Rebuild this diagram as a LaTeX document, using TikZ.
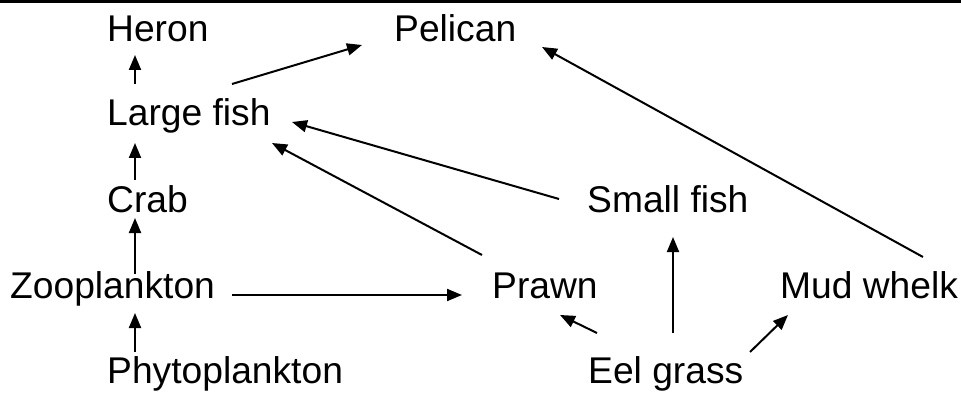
\documentclass[tikz,border=0pt]{standalone}
\usepackage{fontspec}
\setmainfont{Liberation Sans}
\usetikzlibrary{arrows.meta}

\begin{document}
\begin{tikzpicture}[x=1pt,y=-1pt,
  sp/.style={inner sep=0pt,anchor=base west,text height=27pt,text depth=8pt,
    font=\fontsize{37.2}{40}\selectfont},
  eat/.style={line width=2pt,-{Triangle[length=15pt,width=12pt]}}]
\useasboundingbox (0,0) rectangle (961,393);
\draw[line width=3pt] (0,1.5) -- (961,1.5);
\node[sp] (heron) at (107,42) {Heron}; \node[sp] (pelican) at (394,42)
  {Pelican}; \node[sp] (lfish) at (107,126) {Large fish}; \node[sp] (crab)
  at (107,212) {Crab}; \node[sp] (sfish) at (587,212) {Small fish};
\node[sp] (zoo) at (10,298) {Zooplankton}; \node[sp] (prawn) at (492,298)
  {Prawn}; \node[sp] (mud) at (780,298) {Mud whelk}; \node[sp] (phyto) at
  (107,383) {Phytoplankton}; \node[sp] (eel) at (588,383) {Eel grass};
\draw[eat] ([shift={(28,-42)}]lfish.base west) -- ([shift={(28,13)}]heron.base west);
\draw[eat] ([shift={(28,-32)}]crab.base west) -- ([shift={(28,17)}]lfish.base west);
\draw[eat] ([shift={(125,-24)}]zoo.base west) -- ([shift={(28,6)}]crab.base west);
\draw[eat] ([shift={(28,-31)}]phyto.base west) -- ([shift={(125,15)}]zoo.base west);
\draw[eat] ([shift={(222,-3)}]zoo.base west) -- ([shift={(-30,-3)}]prawn.base west);
\draw[eat] ([shift={(125,-42)}]lfish.base west) -- ([shift={(-32,3)}]pelican.base west);
\draw[eat] ([shift={(143,-41)}]mud.base west) -- ([shift={(148,5)}]pelican.base west);
\draw[eat] ([shift={(-28,-13)}]sfish.base west) -- ([shift={(185,-4)}]lfish.base west);
\draw[eat] ([shift={(-10,-43)}]prawn.base west) -- ([shift={(165,17)}]lfish.base west);
\draw[eat] ([shift={(9,-50)}]eel.base west) -- ([shift={(68,17)}]prawn.base west);
\draw[eat] ([shift={(85,-50)}]eel.base west) -- ([shift={(86,25)}]sfish.base west);
\draw[eat] ([shift={(162,-31)}]eel.base west) -- ([shift={(8,17)}]mud.base west);
\end{tikzpicture}
\end{document}
